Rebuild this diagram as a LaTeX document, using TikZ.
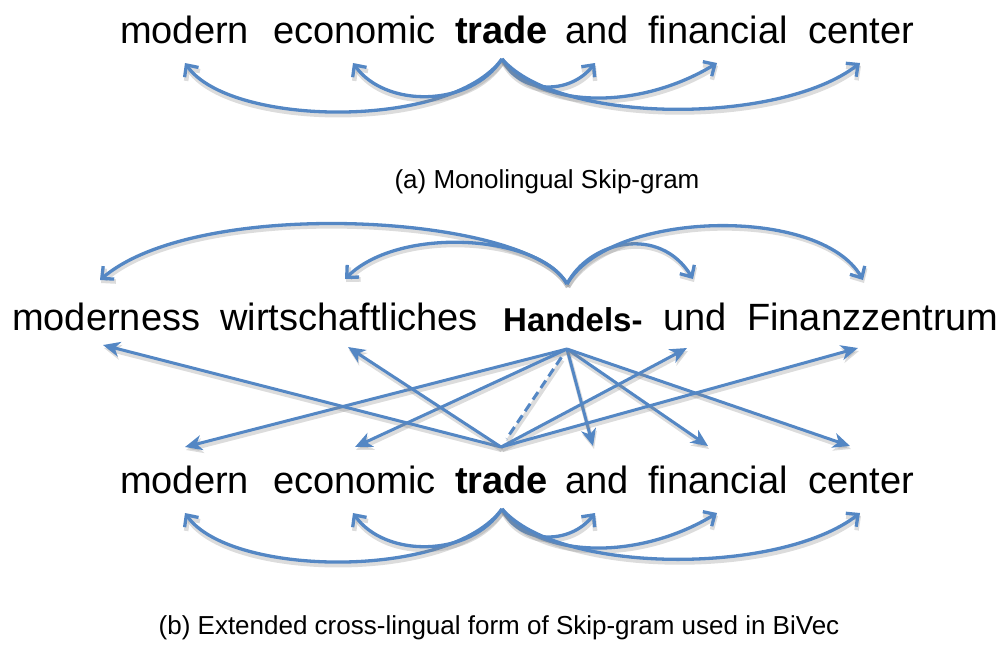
\documentclass[tikz,border=0pt]{standalone}
\usepackage{fontspec}
\setmainfont{Liberation Sans}
\usetikzlibrary{arrows.meta}
\definecolor{arcblue}{RGB}{84,135,196}
\begin{document}
\begin{tikzpicture}[x=1pt,y=-1pt,
  word/.style={inner sep=0pt, anchor=base west, font=\fontsize{38}{40}\selectfont},
  bword/.style={inner sep=0pt, anchor=base west, font=\fontsize{38}{40}\selectfont\bfseries},
  hword/.style={inner sep=0pt, anchor=base west, font=\fontsize{33}{36}\selectfont\bfseries},
  captext/.style={inner sep=0pt, anchor=base, font=\fontsize{26}{28}\selectfont},
  shadowed/.style={preaction={draw=black!45, opacity=.3, line width=4.5pt, transform canvas={xshift=1pt,yshift=-3pt}}},
  arcline/.style={draw=arcblue, line width=3.3pt, shadowed, -{Straight Barb[length=9pt,width=17pt]}},
  xline/.style={draw=arcblue, line width=3pt, shadowed, -{Stealth[length=17pt,width=15pt,inset=5pt]}},
  dline/.style={draw=arcblue, line width=3pt, shadowed, dash pattern=on 9pt off 5pt, shorten <=10pt, shorten >=10pt},
]
\useasboundingbox (0,0) rectangle (1008,646);

% English rows (top: monolingual, bottom: cross-lingual)
\foreach \r/\dy in {1/0,2/450}{
\begin{scope}[shift={(0,\dy)}]
  \node[word]  (m\r) at (120,43) {modern};
  \node[word]  (e\r) at (273,43) {economic};
  \node[bword] (t\r) at (455,43) {trade};
  \node[word]  (a\r) at (565,43) {and};
  \node[word]  (f\r) at (648,43) {financial};
  \node[word]  (c\r) at (808,43) {center};
  \coordinate (vt\r) at (502,59);
  \coordinate (pm\r) at (185,63);
  \coordinate (pe\r) at (353,63);
  \coordinate (pa\r) at (595,63);
  \coordinate (pf\r) at (717,63);
  \coordinate (pc\r) at (860,63);
  \draw[arcline] (vt\r) .. controls (450,130) and (230,127) .. (pm\r);
  \draw[arcline] (vt\r) .. controls (470,108) and (385,108) .. (pe\r);
  \draw[arcline] (vt\r) .. controls (520,95) and (570,95) .. (pa\r);
  \draw[arcline] (vt\r) .. controls (540,110) and (640,110) .. (pf\r);
  \draw[arcline] (vt\r) .. controls (560,125) and (780,125) .. (pc\r);
\end{scope}
}

\node[captext] (capa) at (547,188) {(a) Monolingual Skip-gram};

% German row
\node[word]  (gm) at (12,330) {moderness};
\node[word]  (gw) at (220,330) {wirtschaftliches};
\node[hword] (gh) at (503,331) {Handels-};
\node[word]  (gu) at (663,330) {und};
\node[word]  (gf) at (747,330) {Finanzzentrum};

\coordinate (vh) at (567,284);
\coordinate (qm) at (100,280);
\coordinate (qw) at (345,279);
\coordinate (qu) at (693,279);
\coordinate (qf) at (863,280);
\draw[arcline] (vh) .. controls (530,215) and (200,195) .. (qm);
\draw[arcline] (vh) .. controls (540,235) and (400,225) .. (qw);
\draw[arcline] (vh) .. controls (590,240) and (660,225) .. (qu);
\draw[arcline] (vh) .. controls (610,210) and (820,205) .. (qf);

% cross-lingual links
\coordinate (H) at (567,349);
\coordinate (T) at (501,447);
\coordinate (xm) at (185,447);
\coordinate (xe) at (355,447);
\coordinate (xa) at (593,446);
\coordinate (xf) at (708,446);
\coordinate (xc) at (850,446);
\coordinate (ym) at (103,345);
\coordinate (yw) at (348,347);
\coordinate (yu) at (687,348);
\coordinate (yf) at (858,348);
\draw[xline] (H) -- (xm);
\draw[xline] (H) -- (xe);
\draw[xline] (H) -- (xa);
\draw[xline] (H) -- (xf);
\draw[xline] (H) -- (xc);
\draw[xline] (T) -- (ym);
\draw[xline] (T) -- (yw);
\draw[xline] (T) -- (yu);
\draw[xline] (T) -- (yf);
\draw[dline] (H) -- (T);

\node[captext] (capb) at (499,634) {(b) Extended cross-lingual form of Skip-gram used in BiVec};
\end{tikzpicture}
\end{document}
